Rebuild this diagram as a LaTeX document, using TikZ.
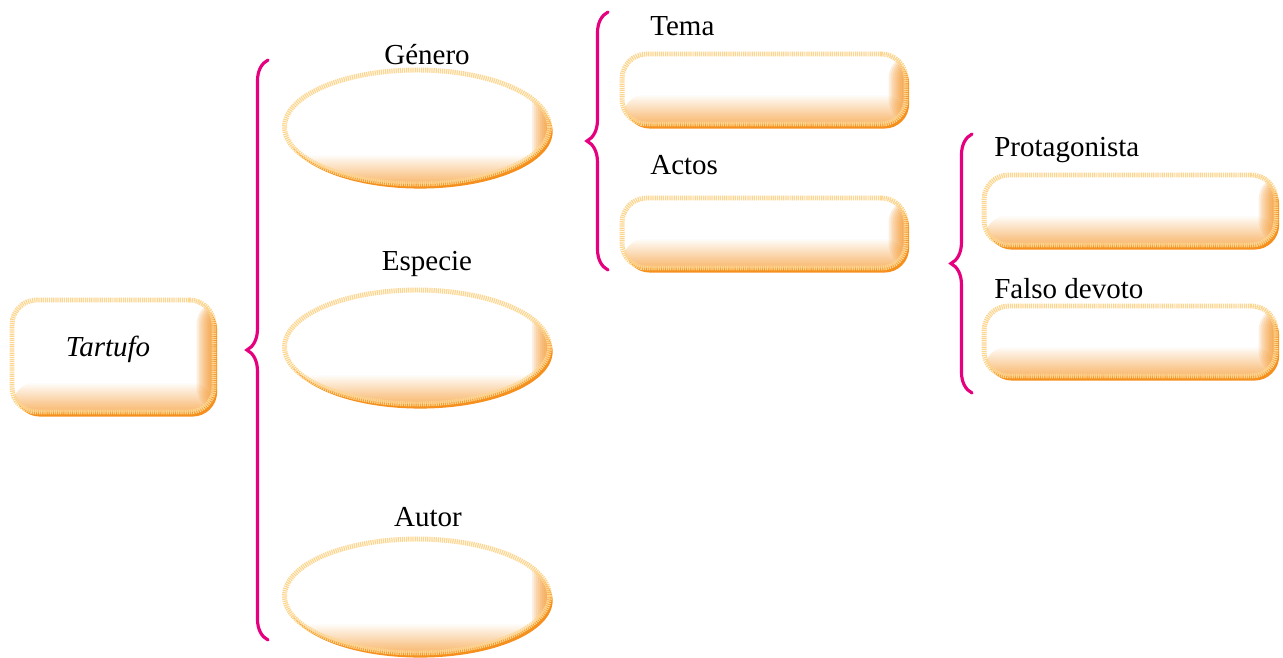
\documentclass[tikz,border=0pt]{standalone}
\usepackage{fontspec}
\setmainfont{Liberation Serif}
\usepackage{tikz}
\usetikzlibrary{shapes.geometric, shadows, fadings, decorations.pathreplacing, positioning}

\definecolor{bandlight}{HTML}{FDD58C}
\definecolor{banddark}{HTML}{F5901E}
\definecolor{bracepink}{HTML}{E6007E}

\tikzfading[name=glowup, top color=transparent!100, bottom color=transparent!0]

\tikzset{
  tile/.style={fill=white, draw=bandlight, line width=2.8pt, dash pattern=on 0.7pt off 0.5pt,
    general shadow={fill=banddark, shadow xshift=1.8pt, shadow yshift=-2.6pt},
    path picture={
      \foreach \k in {1,...,9}
        \fill[banddark, opacity=0.14] ([xshift=-\k*1.1pt]path picture bounding box.north east) rectangle (path picture bounding box.south east);
      \fill[banddark!85, path fading=glowup] ([yshift=17pt]path picture bounding box.south west) rectangle ([yshift=-5pt]path picture bounding box.south east);
    }},
  oval/.style={tile, ellipse, minimum width=5.3cm, minimum height=2.28cm},
  pill/.style={tile, rounded corners=14pt, minimum width=5.68cm, minimum height=1.4cm},
  lbl/.style={font=\fontsize{16.5}{18}\selectfont, inner sep=0pt},
  curly/.style={bracepink, line width=1.8pt, line cap=round, decorate, decoration={brace, amplitude=12pt}}
}

\begin{document}
\begin{tikzpicture}[x=0.02cm, y=-0.02cm]
  \useasboundingbox (0,0) rectangle (1283,657);

  \node[tile, rounded corners=14pt, minimum width=4.04cm, minimum height=2.24cm] (tartufo) at (113,356) {};
  \node[lbl, font=\fontsize{16.5}{18}\selectfont\itshape] (ltartufo) at (108,349) {Tartufo};

  \node[oval] (genero) at (417,127) {};
  \node[oval] (especie) at (417,347) {};
  \node[oval] (autor) at (417,596) {};
  \node[lbl] (lgenero) at (427,55) {Género};
  \node[lbl] (lespecie) at (427,264) {Especie};
  \node[lbl] (lautor) at (428,517) {Autor};

  \node[pill] (tema) at (764,89) {};
  \node[pill] (actos) at (764,233) {};
  \node[lbl, anchor=west] (ltema) at (650,26) {Tema};
  \node[lbl, anchor=west] (lactos) at (650,165) {Actos};

  \node[pill, minimum width=5.84cm] (protag) at (1130,210) {};
  \node[pill, minimum width=5.84cm] (falso) at (1130,341) {};
  \node[lbl, anchor=west] (lprotag) at (994,150) {Protagonista};
  \node[lbl, anchor=west] (lfalso) at (994,289) {Falso devoto};

  % braces
  \draw[curly] (268,640) -- (268,60);
  \draw[curly] (608,270) -- (608,12);
  \draw[curly] (972,393) -- (972,134);
\end{tikzpicture}
\end{document}
